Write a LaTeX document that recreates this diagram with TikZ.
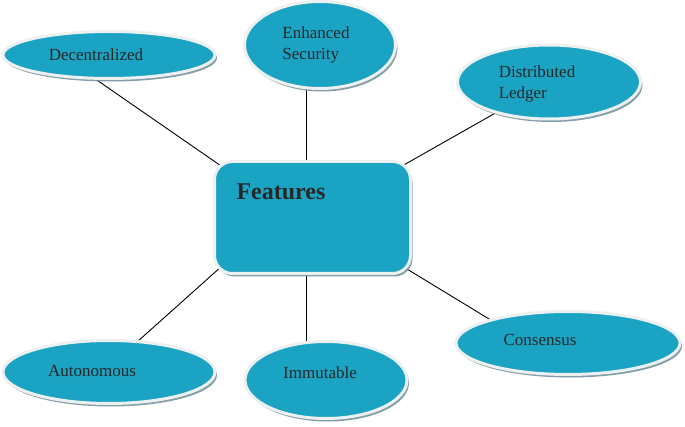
\documentclass[tikz,border=0pt]{standalone}
\usepackage{fontspec}
\setmainfont{Liberation Serif}
\usepackage{tikz}
\usetikzlibrary{shapes.geometric, shadows, backgrounds, calc}

\definecolor{tealfill}{RGB}{27,163,196}
\definecolor{rimgrey}{RGB}{236,240,240}
\definecolor{shadegrey}{RGB}{118,148,158}
\definecolor{inkgrey}{RGB}{40,40,40}

\begin{document}
\begin{tikzpicture}[
    x=1pt, y=1pt,
    bubble/.style={ellipse, draw=rimgrey, line width=3pt, fill=tealfill, inner sep=0pt,
        drop shadow={shadow xshift=2pt, shadow yshift=-3pt, fill=shadegrey, opacity=0.9}},
    hub/.style={rectangle, rounded corners=18pt, draw=rimgrey, line width=3pt, fill=tealfill, inner sep=0pt,
        drop shadow={shadow xshift=2pt, shadow yshift=-3pt, fill=shadegrey, opacity=0.9}},
    lbl/.style={text=inkgrey, font=\fontsize{17}{21}\selectfont, inner sep=0pt},
    spoke/.style={draw=black, line width=0.9pt}
]
    \useasboundingbox (0,0) rectangle (685,426);

    \node[hub, minimum width=196pt, minimum height=112pt] (feat) at (312.5,208.5) {};
    \node[bubble, minimum width=212pt, minimum height=47pt] (dec) at (109,371) {};
    \node[bubble, minimum width=151pt, minimum height=87pt] (sec) at (320,381) {};
    \node[bubble, minimum width=183pt, minimum height=74pt] (led) at (549,344) {};
    \node[bubble, minimum width=212pt, minimum height=63pt] (aut) at (109,54) {};
    \node[bubble, minimum width=162pt, minimum height=77pt] (imm) at (326,46) {};
    \node[bubble, minimum width=224pt, minimum height=63pt] (con) at (568,83) {};

    \node[lbl, font=\fontsize{24}{28}\selectfont\bfseries] (featT) at (281,234) {Features};
    \node[lbl] (decT) at (96,371) {Decentralized};
    \node[lbl, align=left] (secT) at (316,381) {Enhanced\\Security};
    \node[lbl, align=left] (ledT) at (537,342) {Distributed\\Ledger};
    \node[lbl] (autT) at (92,55) {Autonomous};
    \node[lbl] (immT) at (320,53) {Immutable};
    \node[lbl] (conT) at (540,86) {Consensus};

    \begin{scope}[on background layer]
        \draw[spoke] ($(dec.center)+(-18,-21)$) -- ($(feat.north west)+(11,-8)$);
        \draw[spoke] ($(sec.center)+(-14,-40)$) -- ($(feat.north)+(-6.5,-5)$);
        \draw[spoke] ($(led.center)+(-50,-29)$) -- ($(feat.north east)+(-10,-6)$);
        \draw[spoke] ($(aut.center)+(28,30)$) -- ($(feat.south west)+(9,9)$);
        \draw[spoke] ($(imm.center)+(-20,36)$) -- ($(feat.south)+(-6.5,5)$);
        \draw[spoke] ($(con.center)+(-74,21)$) -- ($(feat.south east)+(-10,9)$);
    \end{scope}
\end{tikzpicture}
\end{document}
